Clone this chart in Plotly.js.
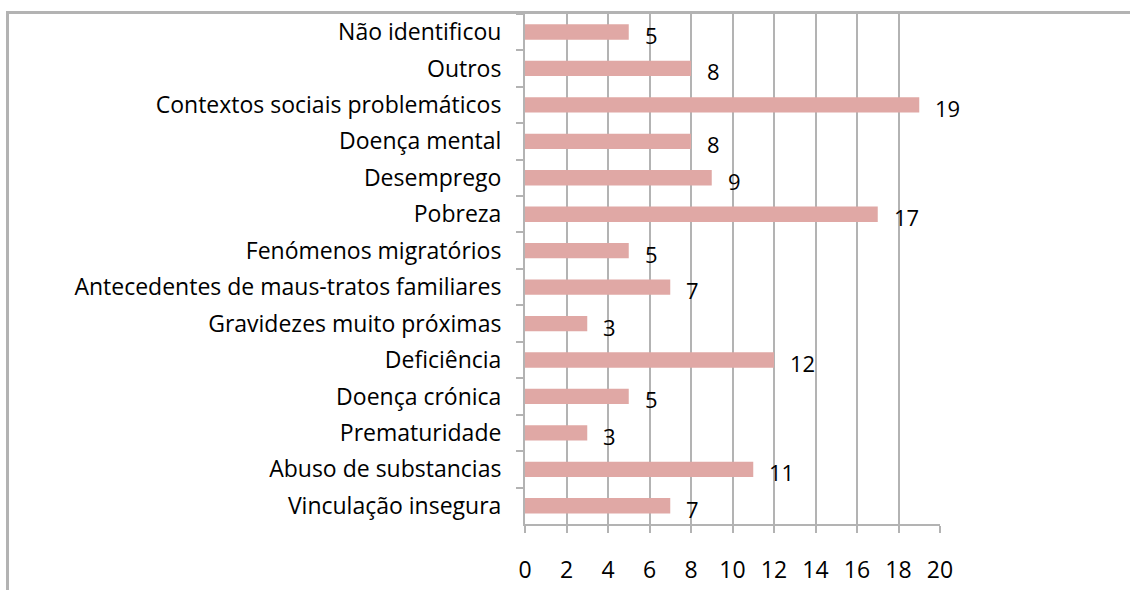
<!DOCTYPE html>
<html>
<head>
<meta charset="utf-8">
<script src="https://cdn.plot.ly/plotly-3.0.1.min.js"></script>
<style>
  html, body { margin: 0; padding: 0; background: #fff; }
  #wrap { position: relative; width: 1130px; height: 590px; }
  #chart { position: absolute; left: 0; top: 0; width: 1130px; height: 590px; }
  #frame { position: absolute; left: 6px; top: 11px; width: 1130px; height: 600px;
           border-left: 3px solid #b3b3b3; border-top: 3px solid #b3b3b3; pointer-events: none; }
</style>
</head>
<body>
<div id="wrap">
  <div id="chart"></div>
  <div id="frame"></div>
</div>
<script>
const categories = [
  "Não identificou",
  "Outros",
  "Contextos sociais problemáticos",
  "Doença mental",
  "Desemprego",
  "Pobreza",
  "Fenómenos migratórios",
  "Antecedentes de maus-tratos familiares",
  "Gravidezes muito próximas",
  "Deficiência",
  "Doença crónica",
  "Prematuridade",
  "Abuso de substancias",
  "Vinculação insegura"
];
const values = [5, 8, 19, 8, 9, 17, 5, 7, 3, 12, 5, 3, 11, 7];
const xTicks = [0, 2, 4, 6, 8, 10, 12, 14, 16, 18, 20];

const FONT = "'Open Sans', sans-serif";

const trace = {
  type: "bar",
  orientation: "h",
  x: values,
  y: categories,
  marker: { color: "#e0a8a5" },
  width: 0.42,
  hoverinfo: "none"
};

const annotations = values.map((v, i) => ({
  x: v, y: categories[i], xref: "x", yref: "y",
  text: String(v), showarrow: false,
  xanchor: "left", xshift: 14, yshift: -3,
  font: { family: FONT, size: 22, color: "#000" }
}));

const layout = {
  width: 1130, height: 590,
  margin: { l: 525, r: 190, t: 12, b: 66 },
  paper_bgcolor: "#fff", plot_bgcolor: "#fff",
  showlegend: false,
  font: { family: FONT, size: 22, color: "#000" },
  xaxis: {
    range: [0, 20], tickvals: xTicks, ticktext: xTicks.map(String),
    showgrid: true, gridcolor: "#b3b3b3", gridwidth: 2,
    zeroline: false,
    showline: true, linecolor: "#b3b3b3", linewidth: 2,
    ticks: "outside", ticklen: 7, tickcolor: "#b3b3b3", tickwidth: 2,
    ticklabelstandoff: 17,
    tickfont: { family: FONT, size: 23, color: "#000" },
    fixedrange: true
  },
  yaxis: {
    type: "category", autorange: "reversed",
    showgrid: false, zeroline: false,
    showline: true, linecolor: "#b3b3b3", linewidth: 2,
    ticks: "outside", ticklen: 7, tickcolor: "#b3b3b3", tickwidth: 2,
    tickson: "boundaries",
    ticklabelstandoff: 17,
    tickfont: { family: FONT, size: 23, color: "#000" },
    fixedrange: true
  },
  annotations: annotations
};

Plotly.newPlot("chart", [trace], layout, { staticPlot: true, displayModeBar: false });
</script>
</body>
</html>
